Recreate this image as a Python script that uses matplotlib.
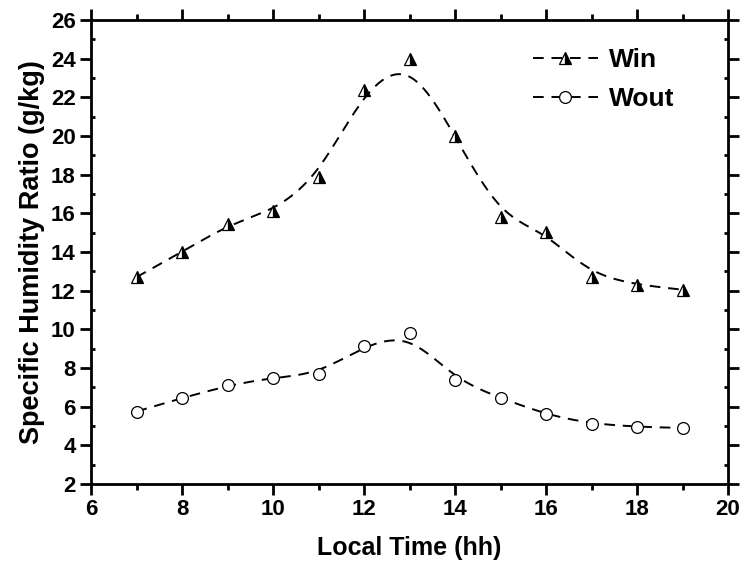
import numpy as np
import matplotlib
matplotlib.use("Agg")
import matplotlib.pyplot as plt
from matplotlib.ticker import MultipleLocator

plt.rcParams['font.family'] = ['Liberation Sans', 'DejaVu Sans']
plt.rcParams['font.weight'] = 'bold'

hours = [7, 8, 9, 10, 11, 12, 13, 14, 15, 16, 17, 18, 19]
w_in = [12.7, 14.0, 15.45, 16.1, 17.9, 22.4, 24.0, 20.0, 15.8, 15.05, 12.7, 12.3, 12.05]
w_out = [5.75, 6.45, 7.1, 7.5, 7.7, 9.15, 9.8, 7.4, 6.45, 5.6, 5.1, 4.95, 4.9]


def bspline_curve(xs, ys, samples=400):
    """Clamped uniform cubic B-spline using the data points as control points."""
    pts = np.column_stack([xs, ys]).astype(float)
    n = len(pts)
    k = 3
    inner = np.arange(1, n - k)
    knots = np.concatenate([np.zeros(k + 1), inner, np.full(k + 1, n - k)]).astype(float)
    t = np.linspace(0, n - k, samples)
    t[-1] -= 1e-9

    def basis(i, p, tt):
        if p == 0:
            return ((knots[i] <= tt) & (tt < knots[i + 1])).astype(float)
        out = np.zeros_like(tt)
        d1 = knots[i + p] - knots[i]
        d2 = knots[i + p + 1] - knots[i + 1]
        if d1 > 0:
            out += (tt - knots[i]) / d1 * basis(i, p - 1, tt)
        if d2 > 0:
            out += (knots[i + p + 1] - tt) / d2 * basis(i + 1, p - 1, tt)
        return out

    B = np.array([basis(i, k, t) for i in range(n)])
    curve = B.T @ pts
    return curve[:, 0], curve[:, 1]


fig = plt.figure(figsize=(7.43, 5.65), dpi=100)
ax = fig.add_axes([91 / 743, 1 - 484 / 565, (728 - 91) / 743, (484 - 20) / 565])

dash = (0, (5.5, 4.0))
tri = dict(marker='^', markersize=8, markerfacecolor='black', markerfacecoloralt='white',
           fillstyle='right', markeredgecolor='black', markeredgewidth=0.9)
circ = dict(marker='o', markersize=8.5, markerfacecolor='white',
            markeredgecolor='black', markeredgewidth=0.9)

cx, cy = bspline_curve(hours, w_in)
ax.plot(cx, cy, color='black', lw=1.4, linestyle=dash)
ax.plot(hours, w_in, linestyle='none', **tri)

cx, cy = bspline_curve(hours, w_out)
ax.plot(cx, cy, color='black', lw=1.4, linestyle=dash)
ax.plot(hours, w_out, linestyle='none', **circ)

# legend entries
ax.plot([], [], color='black', lw=1.4, linestyle=dash, label='Win', **tri)
ax.plot([], [], color='black', lw=1.4, linestyle=dash, label='Wout', **circ)
leg = ax.legend(loc='upper right', bbox_to_anchor=(0.954, 0.99), frameon=False,
                prop={'size': 19, 'weight': 'bold'}, handlelength=2.45,
                handletextpad=0.45, labelspacing=0.55)

ax.set_xlim(6, 20)
ax.set_ylim(2, 26)
ax.xaxis.set_major_locator(MultipleLocator(2))
ax.xaxis.set_minor_locator(MultipleLocator(1))
ax.yaxis.set_major_locator(MultipleLocator(2))
ax.yaxis.set_minor_locator(MultipleLocator(1))

for s in ax.spines.values():
    s.set_linewidth(2.0)

ax.tick_params(axis='both', which='major', direction='out', length=8, width=2,
               labelsize=16, pad=3)
ax.tick_params(axis='x', which='minor', direction='out', length=4, width=2)
ax.tick_params(axis='y', which='minor', direction='in', length=3, width=2)
ax.tick_params(top=True, right=True, which='both')
ax.tick_params(axis='both', which='major', labeltop=False, labelright=False)
for lab in ax.get_xticklabels() + ax.get_yticklabels():
    lab.set_fontweight('bold')

ax.set_xlabel('Local Time (hh)', fontsize=18, fontweight='bold', labelpad=11)
ax.set_ylabel('Specific Humidity Ratio (g/kg)', fontsize=19.5, fontweight='bold', labelpad=4)

fig.savefig('out.png', dpi=100)
